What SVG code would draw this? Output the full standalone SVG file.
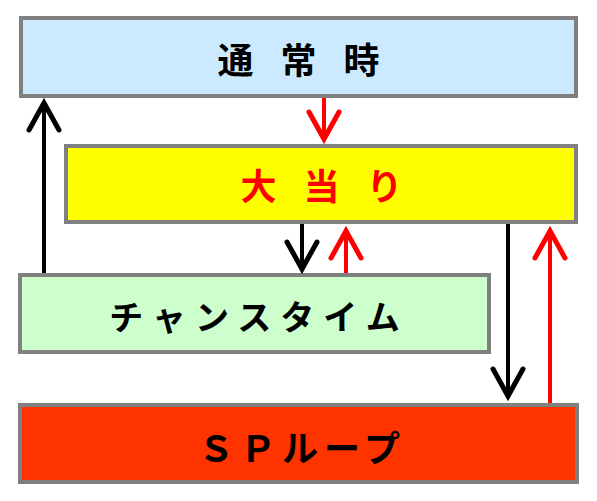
<svg xmlns="http://www.w3.org/2000/svg" width="597" height="501" viewBox="0 0 597 501">
<style>
.box{stroke:#808080;stroke-width:4}
.t{font-family:"Noto Sans CJK JP","Noto Sans CJK SC",sans-serif;font-weight:bold;text-anchor:middle;dominant-baseline:central}
.ab{stroke:#000;stroke-width:4;fill:none}
.ar{stroke:#ff0000;stroke-width:4;fill:none}
</style>
<defs>
<marker id="hb" markerUnits="userSpaceOnUse" orient="auto" markerWidth="40" markerHeight="40" refX="0" refY="0" overflow="visible">
<path d="M-27,-15 L0,0 L-27,15" fill="none" stroke="#000" stroke-width="5" stroke-linecap="round"/>
</marker>
<marker id="hr" markerUnits="userSpaceOnUse" orient="auto" markerWidth="40" markerHeight="40" refX="0" refY="0" overflow="visible">
<path d="M-27,-15 L0,0 L-27,15" fill="none" stroke="#ff0000" stroke-width="5" stroke-linecap="round"/>
</marker>
</defs>
<g id="n-normal">
<rect class="box" x="21" y="18" width="555" height="78" fill="#cceaff"/>
<text class="t" x="312" y="58" font-size="36" letter-spacing="27" fill="#000">通常時</text>
</g>
<g id="n-jackpot">
<rect class="box" x="66" y="146" width="510" height="76" fill="#ffff00"/>
<text class="t" x="335" y="184" font-size="36" letter-spacing="27" fill="#ff0000">大当り</text>
</g>
<g id="n-chance">
<rect class="box" x="20" y="275" width="469" height="77" fill="#ccffcc"/>
<text class="t" x="259" y="315" font-size="34" letter-spacing="9" fill="#000">チャンスタイム</text>
</g>
<g id="n-sploop">
<rect class="box" x="20" y="405" width="557" height="77" fill="#ff3300"/>
<text class="t" x="302" y="446" font-size="36" letter-spacing="6" fill="#000">ＳＰループ</text>
</g>
<g id="connectors">
<line class="ab" x1="44" y1="273" x2="44" y2="103" marker-end="url(#hb)"/>
<line class="ar" x1="324" y1="98" x2="324" y2="139" marker-end="url(#hr)"/>
<line class="ab" x1="302" y1="224" x2="302" y2="269" marker-end="url(#hb)"/>
<line class="ar" x1="346" y1="273" x2="346" y2="231" marker-end="url(#hr)"/>
<line class="ab" x1="508" y1="224" x2="508" y2="396" marker-end="url(#hb)"/>
<line class="ar" x1="550" y1="403" x2="550" y2="231" marker-end="url(#hr)"/>
</g>
</svg>
